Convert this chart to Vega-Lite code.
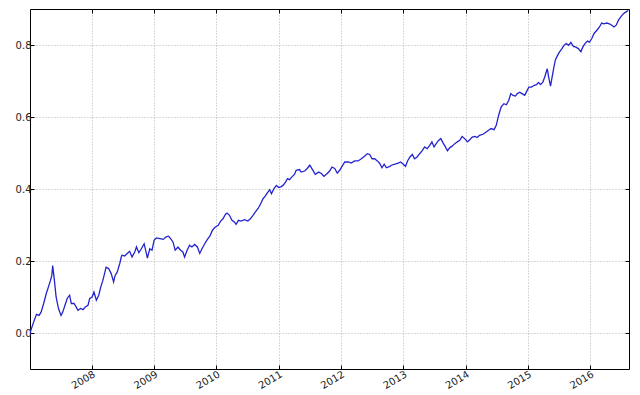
{
  "$schema": "https://vega.github.io/schema/vega-lite/v6.json",
  "width": 599,
  "height": 360,
  "autosize": {"type": "none"},
  "padding": {"left": 30, "top": 9, "right": 11, "bottom": 26},
  "background": "white",
  "config": {
    "view": {"stroke": "#000000", "strokeWidth": 1},
    "axis": {
      "labelFont": "DejaVu Sans",
      "labelFontSize": 10,
      "labelColor": "#222222",
      "domain": false,
      "tickColor": "#000000",
      "tickSize": -4,
      "gridColor": "#888888",
      "gridDash": [1, 2],
      "gridWidth": 0.7,
      "gridOpacity": 0.9,
      "title": null
    }
  },
  "data": {
    "values": [
      {"date": "2007-01-05", "v": -0.005},
      {"date": "2007-01-07", "v": 0.003},
      {"date": "2007-01-23", "v": 0.026},
      {"date": "2007-02-12", "v": 0.052},
      {"date": "2007-02-27", "v": 0.049},
      {"date": "2007-03-11", "v": 0.058},
      {"date": "2007-03-26", "v": 0.082},
      {"date": "2007-04-10", "v": 0.109},
      {"date": "2007-04-23", "v": 0.128},
      {"date": "2007-05-05", "v": 0.146},
      {"date": "2007-05-13", "v": 0.160},
      {"date": "2007-05-18", "v": 0.187},
      {"date": "2007-05-28", "v": 0.146},
      {"date": "2007-06-07", "v": 0.100},
      {"date": "2007-06-21", "v": 0.068},
      {"date": "2007-07-06", "v": 0.049},
      {"date": "2007-07-16", "v": 0.058},
      {"date": "2007-07-29", "v": 0.077},
      {"date": "2007-08-11", "v": 0.096},
      {"date": "2007-08-25", "v": 0.105},
      {"date": "2007-09-04", "v": 0.082},
      {"date": "2007-09-20", "v": 0.082},
      {"date": "2007-10-03", "v": 0.072},
      {"date": "2007-10-13", "v": 0.063},
      {"date": "2007-10-29", "v": 0.068},
      {"date": "2007-11-12", "v": 0.065},
      {"date": "2007-11-25", "v": 0.072},
      {"date": "2007-12-11", "v": 0.077},
      {"date": "2007-12-21", "v": 0.096},
      {"date": "2008-01-04", "v": 0.100},
      {"date": "2008-01-15", "v": 0.114},
      {"date": "2008-01-29", "v": 0.091},
      {"date": "2008-02-12", "v": 0.105},
      {"date": "2008-02-24", "v": 0.128},
      {"date": "2008-03-07", "v": 0.146},
      {"date": "2008-03-17", "v": 0.165},
      {"date": "2008-03-26", "v": 0.183},
      {"date": "2008-04-10", "v": 0.179},
      {"date": "2008-04-25", "v": 0.165},
      {"date": "2008-05-09", "v": 0.142},
      {"date": "2008-05-18", "v": 0.160},
      {"date": "2008-05-30", "v": 0.169},
      {"date": "2008-06-14", "v": 0.193},
      {"date": "2008-06-23", "v": 0.211},
      {"date": "2008-06-27", "v": 0.216},
      {"date": "2008-07-13", "v": 0.214},
      {"date": "2008-07-28", "v": 0.221},
      {"date": "2008-08-11", "v": 0.227},
      {"date": "2008-08-25", "v": 0.211},
      {"date": "2008-09-10", "v": 0.225},
      {"date": "2008-09-20", "v": 0.239},
      {"date": "2008-10-04", "v": 0.223},
      {"date": "2008-10-19", "v": 0.234},
      {"date": "2008-11-04", "v": 0.248},
      {"date": "2008-11-17", "v": 0.221},
      {"date": "2008-11-23", "v": 0.208},
      {"date": "2008-12-07", "v": 0.234},
      {"date": "2008-12-20", "v": 0.230},
      {"date": "2009-01-02", "v": 0.258},
      {"date": "2009-01-15", "v": 0.264},
      {"date": "2009-02-05", "v": 0.262},
      {"date": "2009-02-24", "v": 0.260},
      {"date": "2009-03-13", "v": 0.267},
      {"date": "2009-03-27", "v": 0.269},
      {"date": "2009-04-08", "v": 0.262},
      {"date": "2009-04-22", "v": 0.253},
      {"date": "2009-05-05", "v": 0.230},
      {"date": "2009-05-21", "v": 0.239},
      {"date": "2009-06-06", "v": 0.230},
      {"date": "2009-06-19", "v": 0.225},
      {"date": "2009-06-29", "v": 0.211},
      {"date": "2009-07-14", "v": 0.230},
      {"date": "2009-07-28", "v": 0.244},
      {"date": "2009-08-11", "v": 0.239},
      {"date": "2009-08-27", "v": 0.246},
      {"date": "2009-09-12", "v": 0.239},
      {"date": "2009-09-26", "v": 0.221},
      {"date": "2009-10-09", "v": 0.234},
      {"date": "2009-10-25", "v": 0.248},
      {"date": "2009-11-10", "v": 0.260},
      {"date": "2009-11-24", "v": 0.269},
      {"date": "2009-12-09", "v": 0.285},
      {"date": "2009-12-23", "v": 0.293},
      {"date": "2010-01-12", "v": 0.299},
      {"date": "2010-01-27", "v": 0.311},
      {"date": "2010-02-10", "v": 0.318},
      {"date": "2010-02-24", "v": 0.330},
      {"date": "2010-03-05", "v": 0.333},
      {"date": "2010-03-19", "v": 0.327},
      {"date": "2010-04-03", "v": 0.313},
      {"date": "2010-04-18", "v": 0.308},
      {"date": "2010-04-27", "v": 0.302},
      {"date": "2010-05-11", "v": 0.313},
      {"date": "2010-05-26", "v": 0.311},
      {"date": "2010-06-16", "v": 0.315},
      {"date": "2010-07-05", "v": 0.311},
      {"date": "2010-07-21", "v": 0.318},
      {"date": "2010-08-04", "v": 0.327},
      {"date": "2010-08-17", "v": 0.336},
      {"date": "2010-09-03", "v": 0.346},
      {"date": "2010-09-18", "v": 0.359},
      {"date": "2010-10-02", "v": 0.373},
      {"date": "2010-10-15", "v": 0.380},
      {"date": "2010-10-27", "v": 0.389},
      {"date": "2010-11-10", "v": 0.398},
      {"date": "2010-11-20", "v": 0.387},
      {"date": "2010-12-05", "v": 0.401},
      {"date": "2010-12-19", "v": 0.410},
      {"date": "2011-01-02", "v": 0.404},
      {"date": "2011-01-14", "v": 0.406},
      {"date": "2011-01-27", "v": 0.410},
      {"date": "2011-02-11", "v": 0.419},
      {"date": "2011-02-22", "v": 0.429},
      {"date": "2011-03-06", "v": 0.426},
      {"date": "2011-03-19", "v": 0.433},
      {"date": "2011-04-05", "v": 0.441},
      {"date": "2011-04-14", "v": 0.452},
      {"date": "2011-05-04", "v": 0.454},
      {"date": "2011-05-13", "v": 0.447},
      {"date": "2011-06-03", "v": 0.450},
      {"date": "2011-06-18", "v": 0.457},
      {"date": "2011-07-03", "v": 0.466},
      {"date": "2011-07-19", "v": 0.454},
      {"date": "2011-08-04", "v": 0.441},
      {"date": "2011-08-24", "v": 0.447},
      {"date": "2011-09-09", "v": 0.443},
      {"date": "2011-09-24", "v": 0.435},
      {"date": "2011-10-13", "v": 0.443},
      {"date": "2011-10-27", "v": 0.450},
      {"date": "2011-11-10", "v": 0.461},
      {"date": "2011-11-26", "v": 0.457},
      {"date": "2011-12-11", "v": 0.444},
      {"date": "2011-12-25", "v": 0.452},
      {"date": "2012-01-08", "v": 0.463},
      {"date": "2012-01-24", "v": 0.475},
      {"date": "2012-02-13", "v": 0.475},
      {"date": "2012-03-02", "v": 0.472},
      {"date": "2012-03-22", "v": 0.478},
      {"date": "2012-04-11", "v": 0.478},
      {"date": "2012-04-30", "v": 0.484},
      {"date": "2012-05-19", "v": 0.491},
      {"date": "2012-06-04", "v": 0.498},
      {"date": "2012-06-18", "v": 0.496},
      {"date": "2012-07-02", "v": 0.484},
      {"date": "2012-07-17", "v": 0.484},
      {"date": "2012-08-02", "v": 0.478},
      {"date": "2012-08-16", "v": 0.471},
      {"date": "2012-08-29", "v": 0.459},
      {"date": "2012-09-11", "v": 0.469},
      {"date": "2012-09-24", "v": 0.459},
      {"date": "2012-10-14", "v": 0.463},
      {"date": "2012-10-23", "v": 0.466},
      {"date": "2012-11-13", "v": 0.469},
      {"date": "2012-12-02", "v": 0.472},
      {"date": "2012-12-17", "v": 0.475},
      {"date": "2013-01-01", "v": 0.469},
      {"date": "2013-01-14", "v": 0.463},
      {"date": "2013-01-26", "v": 0.478},
      {"date": "2013-02-09", "v": 0.489},
      {"date": "2013-02-23", "v": 0.496},
      {"date": "2013-03-08", "v": 0.484},
      {"date": "2013-03-23", "v": 0.489},
      {"date": "2013-04-07", "v": 0.498},
      {"date": "2013-04-21", "v": 0.506},
      {"date": "2013-05-06", "v": 0.517},
      {"date": "2013-05-21", "v": 0.512},
      {"date": "2013-06-05", "v": 0.521},
      {"date": "2013-06-18", "v": 0.531},
      {"date": "2013-06-30", "v": 0.517},
      {"date": "2013-07-13", "v": 0.526},
      {"date": "2013-07-27", "v": 0.535},
      {"date": "2013-08-09", "v": 0.540},
      {"date": "2013-08-22", "v": 0.528},
      {"date": "2013-09-05", "v": 0.517},
      {"date": "2013-09-17", "v": 0.506},
      {"date": "2013-10-01", "v": 0.515},
      {"date": "2013-10-14", "v": 0.519},
      {"date": "2013-10-30", "v": 0.526},
      {"date": "2013-11-14", "v": 0.531},
      {"date": "2013-11-28", "v": 0.535},
      {"date": "2013-12-12", "v": 0.546},
      {"date": "2013-12-27", "v": 0.540},
      {"date": "2014-01-12", "v": 0.531},
      {"date": "2014-01-26", "v": 0.537},
      {"date": "2014-02-09", "v": 0.544},
      {"date": "2014-02-25", "v": 0.546},
      {"date": "2014-03-10", "v": 0.543},
      {"date": "2014-03-24", "v": 0.549},
      {"date": "2014-04-13", "v": 0.552},
      {"date": "2014-05-06", "v": 0.560},
      {"date": "2014-05-30", "v": 0.568},
      {"date": "2014-06-17", "v": 0.565},
      {"date": "2014-06-30", "v": 0.577},
      {"date": "2014-07-14", "v": 0.605},
      {"date": "2014-07-29", "v": 0.628},
      {"date": "2014-08-14", "v": 0.637},
      {"date": "2014-08-28", "v": 0.634},
      {"date": "2014-09-11", "v": 0.646},
      {"date": "2014-09-23", "v": 0.665},
      {"date": "2014-10-06", "v": 0.660},
      {"date": "2014-10-20", "v": 0.658},
      {"date": "2014-11-01", "v": 0.665},
      {"date": "2014-11-15", "v": 0.669},
      {"date": "2014-11-28", "v": 0.665},
      {"date": "2014-12-14", "v": 0.660},
      {"date": "2014-12-23", "v": 0.669},
      {"date": "2015-01-07", "v": 0.683},
      {"date": "2015-01-22", "v": 0.683},
      {"date": "2015-02-08", "v": 0.688},
      {"date": "2015-02-21", "v": 0.690},
      {"date": "2015-03-05", "v": 0.696},
      {"date": "2015-03-16", "v": 0.690},
      {"date": "2015-03-30", "v": 0.697},
      {"date": "2015-04-10", "v": 0.711},
      {"date": "2015-04-19", "v": 0.725},
      {"date": "2015-04-25", "v": 0.734},
      {"date": "2015-05-03", "v": 0.711},
      {"date": "2015-05-14", "v": 0.686},
      {"date": "2015-05-22", "v": 0.707},
      {"date": "2015-06-03", "v": 0.739},
      {"date": "2015-06-11", "v": 0.758},
      {"date": "2015-06-22", "v": 0.769},
      {"date": "2015-07-06", "v": 0.781},
      {"date": "2015-07-20", "v": 0.790},
      {"date": "2015-08-01", "v": 0.799},
      {"date": "2015-08-14", "v": 0.804},
      {"date": "2015-08-28", "v": 0.799},
      {"date": "2015-09-10", "v": 0.807},
      {"date": "2015-09-25", "v": 0.796},
      {"date": "2015-10-10", "v": 0.794},
      {"date": "2015-10-24", "v": 0.790},
      {"date": "2015-11-08", "v": 0.781},
      {"date": "2015-11-19", "v": 0.794},
      {"date": "2015-12-02", "v": 0.804},
      {"date": "2015-12-16", "v": 0.811},
      {"date": "2015-12-28", "v": 0.808},
      {"date": "2016-01-11", "v": 0.818},
      {"date": "2016-01-24", "v": 0.832},
      {"date": "2016-02-10", "v": 0.841},
      {"date": "2016-02-25", "v": 0.850},
      {"date": "2016-03-09", "v": 0.861},
      {"date": "2016-03-22", "v": 0.859},
      {"date": "2016-04-08", "v": 0.861},
      {"date": "2016-04-23", "v": 0.859},
      {"date": "2016-05-07", "v": 0.855},
      {"date": "2016-05-20", "v": 0.850},
      {"date": "2016-06-02", "v": 0.855},
      {"date": "2016-06-15", "v": 0.869},
      {"date": "2016-06-29", "v": 0.878},
      {"date": "2016-07-14", "v": 0.887},
      {"date": "2016-07-30", "v": 0.892},
      {"date": "2016-08-12", "v": 0.896}
    ]
  },
  "layer": [
    {
      "mark": {"type": "line", "color": "#2323d0", "strokeWidth": 1.3, "clip": true},
      "encoding": {
        "x": {
          "field": "date",
          "type": "temporal",
          "scale": {"domain": ["2007-01-05", "2016-08-16"]},
          "axis": {
            "format": "%Y",
            "tickCount": {"interval": "year", "step": 1},
            "labelAngle": -30,
            "labelAlign": "right",
            "labelBaseline": "top",
            "labelPadding": 4,
            "labelFlush": false,
            "labelOverlap": false
          }
        },
        "y": {
          "field": "v",
          "type": "quantitative",
          "scale": {"domain": [-0.1, 0.9], "nice": false, "zero": false},
          "axis": {
            "values": [0, 0.2, 0.4, 0.6, 0.8],
            "format": ".1f",
            "labelPadding": 3
          }
        }
      }
    },
    {
      "mark": {"type": "line", "opacity": 0, "clip": true},
      "encoding": {
        "x": {
          "field": "date",
          "type": "temporal",
          "axis": {
            "orient": "top",
            "labels": false,
            "grid": false,
            "tickCount": {"interval": "year", "step": 1}
          }
        },
        "y": {
          "field": "v",
          "type": "quantitative",
          "axis": {
            "orient": "right",
            "labels": false,
            "grid": false,
            "values": [0, 0.2, 0.4, 0.6, 0.8]
          }
        }
      }
    }
  ],
  "resolve": {"axis": {"x": "independent", "y": "independent"}}
}
